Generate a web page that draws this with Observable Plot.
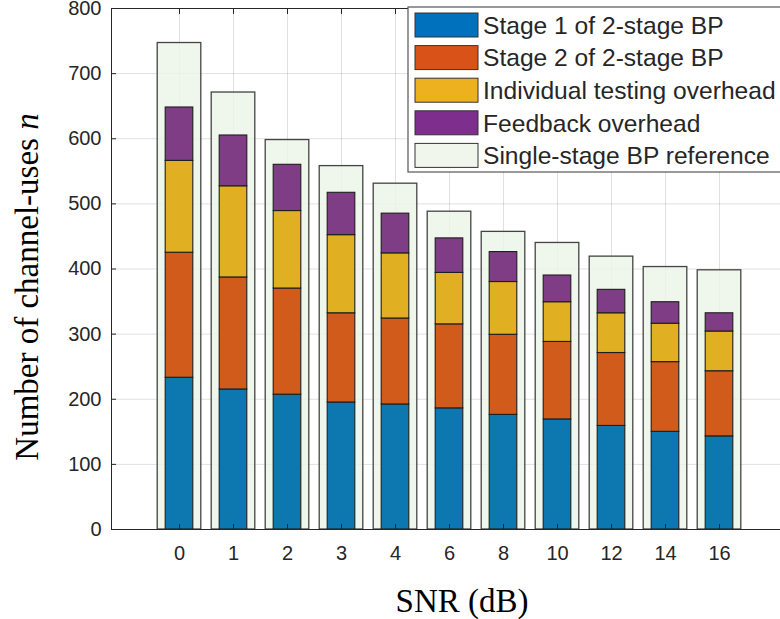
<!DOCTYPE html>
<html>
<head>
<meta charset="utf-8">
<script src="https://cdn.jsdelivr.net/npm/d3@7"></script>
<script src="https://cdn.jsdelivr.net/npm/@observablehq/plot@0.6"></script>
<style>
  html, body { margin: 0; padding: 0; background: #fff; }
  #chart { width: 780px; height: 619px; overflow: hidden; }
</style>
</head>
<body>
<div id="chart"></div>
<script>
const snr = ["0","1","2","3","4","6","8","10","12","14","16"];
const stage1   = [233, 215, 207, 195, 192, 186, 176, 169, 159, 150, 143];
const stage2   = [192, 172, 163, 137, 132, 129, 123, 119, 112, 107, 100];
const indiv    = [141, 140, 119, 120, 100,  79,  81,  61,  61,  59,  61];
const feedback = [ 82,  78,  71,  65,  61,  53,  46,  41,  36,  33,  28];
const single   = [747, 671, 598, 558, 531, 488, 457, 440, 419, 403, 398];
const seriesNames = ["Stage 1 of 2-stage BP", "Stage 2 of 2-stage BP", "Individual testing overhead", "Feedback overhead"];
const refName = "Single-stage BP reference";
const barColors = ["#0d77b0", "#d15b1a", "#e0b022", "#7e3d85"];
const legendColors = ["#0072bd", "#d95319", "#edb120", "#7e2f8e", "#f0f6ec"];
const refFill = "#ecf4e7";
const yTicks = [0, 100, 200, 300, 400, 500, 600, 700, 800];
const xTitle = "SNR (dB)";
const yTitle = "Number of channel-uses ";

const seriesValues = [stage1, stage2, indiv, feedback];
const stacked = [];
snr.forEach((s, i) => seriesValues.forEach((vals, k) => stacked.push({snr: s, series: seriesNames[k], value: vals[i]})));
const refRows = snr.map((s, i) => ({snr: s, value: single[i]}));

const W = 780, H = 619, mL = 111, mT = 8, mB = 90;
const step = 54.4, first = 177;

const plot = Plot.plot({
  width: W, height: H,
  marginLeft: mL, marginRight: 0, marginTop: mT, marginBottom: mB,
  style: {fontFamily: "'Liberation Sans', Arial, sans-serif", fontSize: "20px", background: "#fff", color: "#262626"},
  x: {type: "band", domain: snr, range: [first - step / 2, first + step * (snr.length - 0.5)], paddingInner: 0, paddingOuter: 0, label: null},
  y: {domain: [0, 800], label: null},
  color: {domain: seriesNames, range: barColors},
  marks: [
    Plot.gridY(yTicks, {stroke: "#000", strokeOpacity: 0.12}),
    Plot.gridX(snr, {stroke: "#000", strokeOpacity: 0.12}),
    Plot.barY(refRows, {x: "snr", y: "value", fill: refFill, fillOpacity: 0.82, stroke: "#444", strokeWidth: 1.3, insetLeft: 5.2, insetRight: 5.2}),
    Plot.barY(stacked, {x: "snr", y: "value", fill: "series", order: seriesNames, stroke: "#1e1e1e", strokeWidth: 1.1, insetLeft: 13.2, insetRight: 13.2}),
    Plot.frame({stroke: "#262626", strokeWidth: 1}),
    Plot.axisY(yTicks, {tickSize: -5, tickPadding: 15, fontSize: 20, fill: "#262626", stroke: "#262626", label: null, textStroke: "none"}),
    Plot.axisX({tickSize: -5, tickPadding: 21, fontSize: 20, fill: "#262626", stroke: "#262626", label: null}),
    Plot.axisX({anchor: "top", tickSize: -5, tickFormat: () => "", stroke: "#262626", label: null})
  ]
});

const svg = d3.select(plot);
// axis titles
svg.append("text")
  .attr("x", 462).attr("y", 612)
  .attr("text-anchor", "middle")
  .style("font-family", "'Liberation Serif', 'Times New Roman', serif")
  .style("font-size", "33px").attr("fill", "#000")
  .text(xTitle);
const yt = svg.append("text")
  .attr("transform", "translate(38,287) rotate(-90)")
  .attr("text-anchor", "middle")
  .style("font-family", "'Liberation Serif', 'Times New Roman', serif")
  .style("font-size", "33px").attr("fill", "#000");
yt.append("tspan").text(yTitle);
yt.append("tspan").style("font-style", "italic").text("n");

// legend
const legNames = [...seriesNames, refName];
const lg = svg.append("g");
lg.append("rect").attr("x", 408).attr("y", 7).attr("width", 380).attr("height", 165)
  .attr("fill", "#fff").attr("stroke", "#555").attr("stroke-width", 1.2);
legNames.forEach((name, k) => {
  const y0 = 13 + k * 32.6;
  lg.append("rect").attr("x", 415).attr("y", y0).attr("width", 63).attr("height", 24)
    .attr("fill", legendColors[k]).attr("stroke", "#333").attr("stroke-width", 1);
  lg.append("text").attr("x", 483).attr("y", y0 + 12).attr("dy", "0.36em")
    .attr("text-anchor", "start")
    .style("font-family", "'Liberation Sans', Arial, sans-serif").style("font-size", "24.6px")
    .attr("fill", "#262626").text(name);
});

document.getElementById("chart").appendChild(plot);
</script>
</body>
</html>
